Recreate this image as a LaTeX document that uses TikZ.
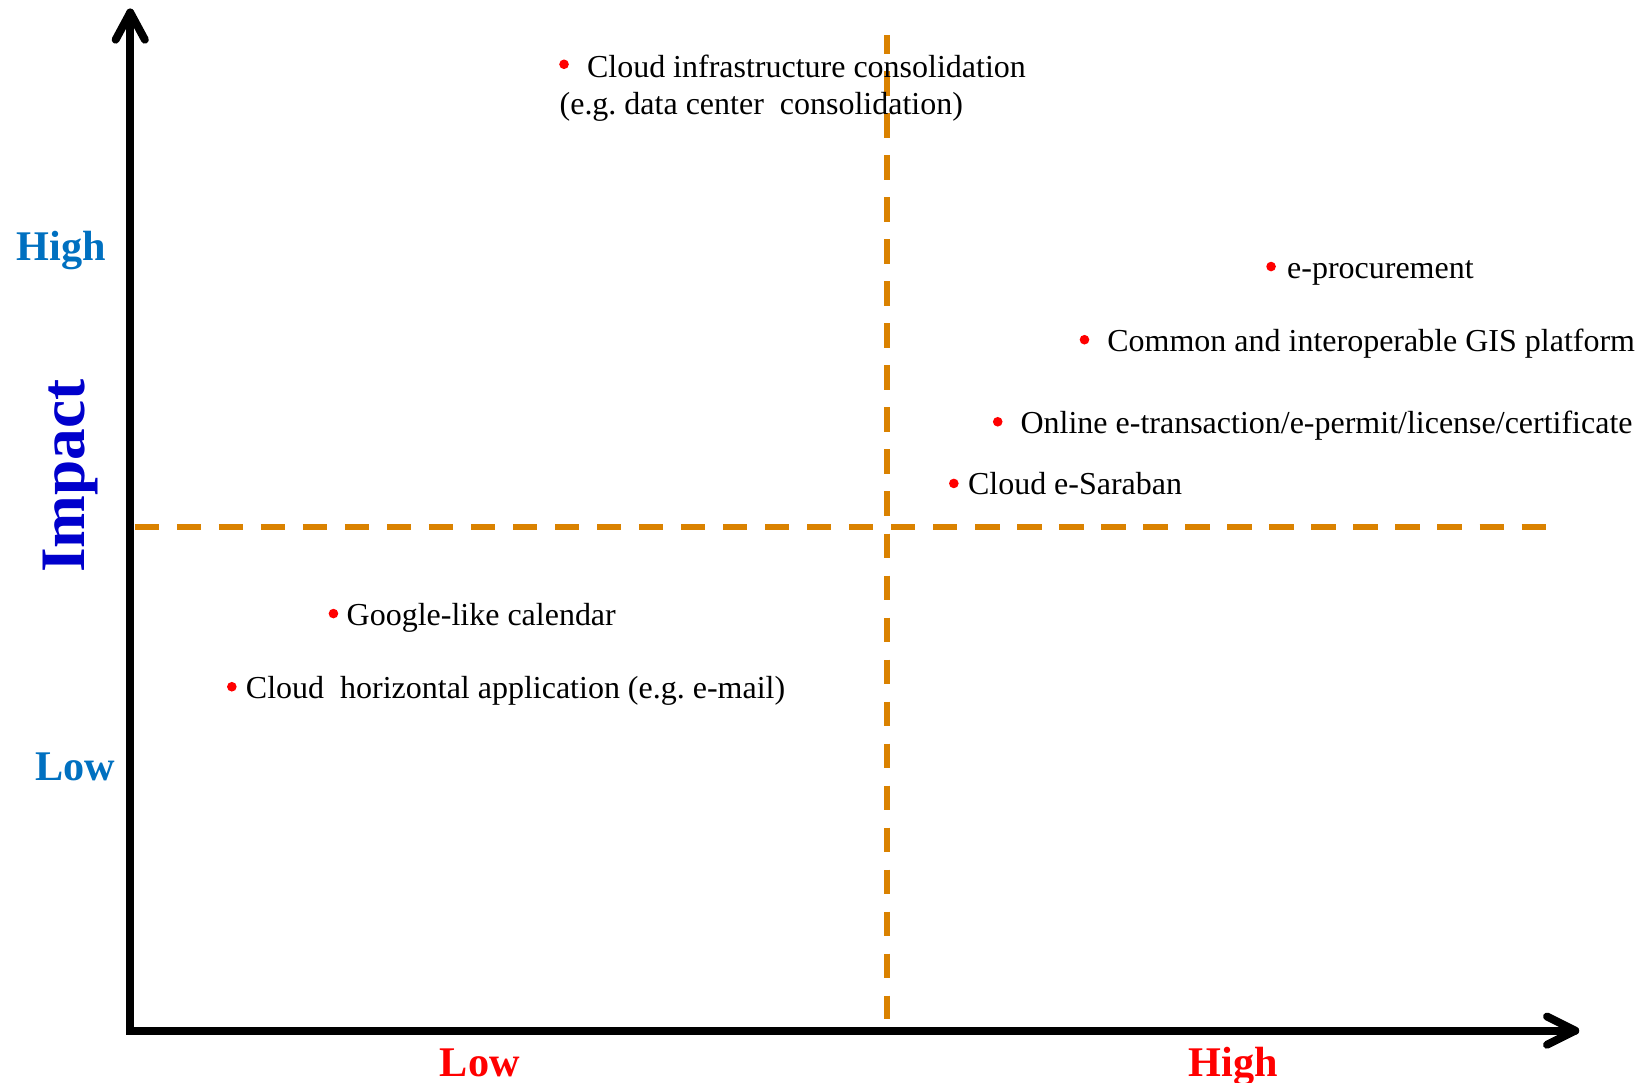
\documentclass[tikz,border=0pt]{standalone}
\usepackage{fontspec}
\setmainfont{Liberation Serif}
\usetikzlibrary{calc}
\definecolor{dashorange}{RGB}{218,130,0}
\definecolor{lblblue}{RGB}{0,112,192}
\definecolor{impactblue}{RGB}{0,0,204}
\definecolor{dotred}{RGB}{255,0,0}
\frenchspacing
\begin{document}
\begin{tikzpicture}[x=0.5pt,y=-0.5pt,
  axisline/.style={line width=3.8pt,black,line cap=round,line join=round},
  divider/.style={line width=2.85pt,dashorange,dash pattern=on 11.6pt off 8.5pt},
  item/.style={inner sep=0pt,anchor=base west,font=\fontsize{15.3}{18}\selectfont},
  dotmark/.style={circle,fill=dotred,inner sep=0pt,minimum size=4.6pt},
  ylabel/.style={inner sep=0pt,anchor=base,text=lblblue,font=\fontsize{20.2}{24}\selectfont\bfseries},
  xlabel/.style={inner sep=0pt,anchor=base,text=dotred,font=\fontsize{20.2}{24}\selectfont\bfseries}]
\useasboundingbox (0,0) rectangle (1568,1036);
% axes
\coordinate (O) at (124.6,986);
\coordinate (ytip) at (124.6,12);
\coordinate (xtip) at (1507,986);
\draw[axisline,line join=miter] (ytip) -- (O) -- (xtip);
\draw[axisline] ($(ytip)+(-14,26)$) -- (ytip) -- ($(ytip)+(14,26)$);
\draw[axisline] ($(xtip)+(-27,-13.5)$) -- (xtip) -- ($(xtip)+(-27,13.5)$);
% dashed dividers
\coordinate (hl) at (129,504.2);
\coordinate (hr) at (1480,504.2);
\coordinate (vt) at (848.2,33.5);
\coordinate (vb) at (848.2,975);
\draw[divider] (hl) -- (hr);
\draw[divider,dash phase=2.75pt] (vt) -- (vb);
% axis labels
\node[ylabel] (yhigh) at (58.6,249) {High};
\node[ylabel] (ylow) at (71.8,746.5) {Low};
\node[rotate=90,anchor=base,inner sep=0pt,text=impactblue,font=\fontsize{30.3}{36}\selectfont\bfseries] (impact) at (81,455.5) {Impact};
\node[xlabel] (xlow) at (459,1030) {Low};
\node[xlabel] (xhigh) at (1180,1030) {High};
% items
\node[dotmark] (d1) at (539.6,61.5) {};
\node[item] (t1) at (561.2,74) {Cloud infrastructure consolidation};
\node[item] (t1b) at (535,110) {(e.g. data center\ \ consolidation)};
\node[dotmark] (d2) at (1216,255) {};
\node[item] (t2) at (1231,266.5) {e-procurement};
\node[dotmark] (d3) at (1037.5,325) {};
\node[item] (t3) at (1059,336.5) {Common and interoperable GIS platform};
\node[dotmark] (d4) at (954.5,403.5) {};
\node[item] (t4) at (976,415) {Online e-transaction/e-permit/license/certificate};
\node[dotmark] (d5) at (912.5,462.5) {};
\node[item] (t5) at (925.7,473) {Cloud e-Saraban};
\node[dotmark] (d6) at (319,587) {};
\node[item] (t6) at (331.3,598.5) {Google-like calendar};
\node[dotmark] (d7) at (221.8,657) {};
\node[item] (t7) at (234.9,668.5) {Cloud\ \ horizontal application (e.g. e-mail)};
\end{tikzpicture}
\end{document}
